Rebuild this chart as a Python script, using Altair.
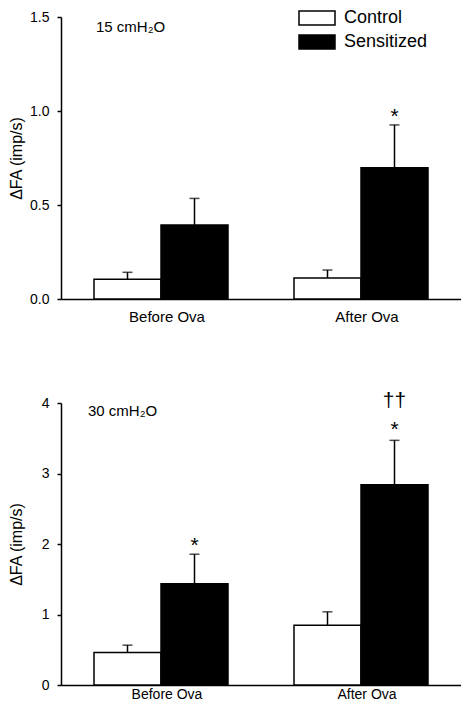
import altair as alt
import pandas as pd

FONT = "Liberation Sans"

groups = ["Before Ova", "After Ova"]
series = ["Control", "Sensitized"]

# bar order: (Before, Control), (Before, Sensitized), (After, Control), (After, Sensitized)
bar_group = ["Before Ova", "Before Ova", "After Ova", "After Ova"]
bar_series = ["Control", "Sensitized", "Control", "Sensitized"]

mean_15 = [0.105, 0.393, 0.112, 0.698]
sem_15 = [0.037, 0.142, 0.042, 0.228]

mean_30 = [0.46, 1.435, 0.846, 2.84]
sem_30 = [0.105, 0.42, 0.192, 0.63]

# significance marks: group, series, symbol, position (in y units)
ann15_group = ["After Ova"]
ann15_series = ["Sensitized"]
ann15_text = ["*"]
ann15_pos = [1.0]

ann30_group = ["Before Ova", "After Ova", "After Ova"]
ann30_series = ["Sensitized", "Sensitized", "Sensitized"]
ann30_text = ["*", "*", "††"]
ann30_pos = [2.05, 3.70, 4.01]

ticks_15 = [0, 0.5, 1.0, 1.5]
ticks_30 = [0, 1, 2, 3, 4]

LEGEND_PATH = "M-2,-0.78H2V0.78H-2Z"

W, H = 400, 282


def panel(means, sems, a_group, a_series, a_text, a_pos, ymax, ticks, fmt,
          label, label_x, label_y, legend, xlab_pad, xlab_size):
    df = pd.DataFrame({"group": bar_group, "series": bar_series,
                       "mean": means, "sem": sems})
    ann = pd.DataFrame({"group": a_group, "series": a_series,
                        "mark": a_text, "pos": a_pos})
    base = alt.Chart(df).transform_calculate(top="datum.mean + datum.sem")

    x = alt.X("group:N", sort=groups,
              scale=alt.Scale(paddingInner=0.33, paddingOuter=0.165),
              axis=alt.Axis(title=None, ticks=False, labelAngle=0,
                            labelFontSize=xlab_size, labelPadding=xlab_pad,
                            labelOffset=6, labelColor="black",
                            labelFont=FONT, domainColor="black",
                            domainWidth=1.5))
    xo = alt.XOffset("series:N", sort=series,
                     scale=alt.Scale(paddingInner=0, paddingOuter=0))
    yscale = alt.Scale(domain=[0, ymax], nice=False, zero=True)
    yaxis = alt.Axis(values=ticks, format=fmt, title="ΔFA (imp/s)",
                     titleFontSize=16, titleFont=FONT,
                     titleFontWeight="normal", titleColor="black",
                     titlePadding=5, labelFontSize=14,
                     labelFont=FONT, labelColor="black",
                     labelPadding=8, tickSize=4, tickWidth=1.5,
                     tickColor="black", domainColor="black",
                     domainWidth=1.5, grid=False,
                     minExtent=32, maxExtent=32)

    fill = alt.Fill("series:N", sort=series,
                    scale=alt.Scale(domain=series, range=["white", "black"]),
                    legend=legend)

    bars = base.mark_bar(stroke="black", strokeWidth=1.5).encode(
        x=x, xOffset=xo, y=alt.Y("mean:Q", scale=yscale, axis=yaxis),
        fill=fill)
    err = base.mark_rule(color="black", strokeWidth=1.5).encode(
        x=x, xOffset=xo,
        y=alt.Y("mean:Q", scale=yscale, axis=yaxis), y2="top:Q")
    cap = base.mark_tick(color="black", thickness=1.5, size=10,
                         orient="horizontal").encode(
        x=x, xOffset=xo, y=alt.Y("top:Q", scale=yscale, axis=yaxis))

    stars = alt.Chart(ann).transform_filter("datum.mark == '*'").mark_text(
        fontSize=21, font=FONT, color="black", baseline="middle", dy=6
    ).encode(x=x, xOffset=xo,
             y=alt.Y("pos:Q", scale=yscale, axis=yaxis), text="mark:N")
    daggers = alt.Chart(ann).transform_filter("datum.mark != '*'").mark_text(
        fontSize=21, font=FONT, color="black", baseline="middle", dy=-1
    ).encode(x=x, xOffset=xo,
             y=alt.Y("pos:Q", scale=yscale, axis=yaxis), text="mark:N")

    title = alt.Chart(pd.DataFrame({"t": [label]})).mark_text(
        align="left", baseline="alphabetic", fontSize=15, font=FONT,
        color="black"
    ).encode(x=alt.value(label_x), y=alt.value(label_y), text="t:N")

    return alt.layer(bars, err, cap, stars, daggers, title).properties(
        width=W, height=H)


legend_top = alt.Legend(
    orient="none", legendX=246, legendY=-9, title=None,
    symbolType=LEGEND_PATH, symbolSize=324, symbolStrokeColor="black",
    symbolStrokeWidth=1.5, symbolOpacity=1, labelFontSize=18,
    labelFont=FONT, labelColor="black", labelOffset=17, rowPadding=2,
    padding=0)

top = panel(mean_15, sem_15, ann15_group, ann15_series, ann15_text,
            ann15_pos, 1.5, ticks_15, ".1f", "15 cmH₂O", 35, 14.5,
            legend_top, 10, 15)
bottom = panel(mean_30, sem_30, ann30_group, ann30_series, ann30_text,
               ann30_pos, 4, ticks_30, "d", "30 cmH₂O", 27, 12.5,
               None, 2, 14)

chart = alt.vconcat(top, bottom, spacing=104, bounds="flush").resolve_scale(
    fill="independent"
).properties(
    padding={"left": 0, "top": 0, "right": 0, "bottom": 0}
).configure(font=FONT).configure_view(strokeWidth=0)

chart.save("out.html", embed_options={"renderer": "svg", "actions": False})
